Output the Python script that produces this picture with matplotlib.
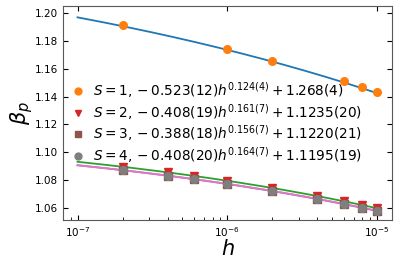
import numpy as np
import matplotlib
matplotlib.use("Agg")
import matplotlib.pyplot as plt

# step sizes
h_s1 = [2e-7, 1e-6, 2e-6, 6e-6, 8e-6, 1e-5]
h_rest = [2e-7, 4e-7, 6e-7, 1e-6, 2e-6, 4e-6, 6e-6, 8e-6, 1e-5]

# measured beta_p
beta_s1 = [1.1915, 1.1745, 1.1660, 1.1510, 1.1468, 1.1433]
beta_s2 = [1.0894, 1.0854, 1.0829, 1.0794, 1.0742, 1.0683, 1.0646, 1.0618, 1.0596]
beta_s3 = [1.0870, 1.0830, 1.0805, 1.0770, 1.0719, 1.0662, 1.0626, 1.0598, 1.0576]
beta_s4 = [1.0870, 1.0831, 1.0806, 1.0771, 1.0720, 1.0664, 1.0627, 1.0600, 1.0577]

# fit parameters  beta = -a * h^b + c
fit_a = [0.523, 0.408, 0.388, 0.408]
fit_b = [0.124, 0.161, 0.156, 0.164]
fit_c = [1.268, 1.1235, 1.1220, 1.1195]

labels = [
    r"$S=1, -0.523(12)h^{0.124(4)}+1.268(4)$",
    r"$S=2, -0.408(19)h^{0.161(7)}+1.1235(20)$",
    r"$S=3, -0.388(18)h^{0.156(7)}+1.1220(21)$",
    r"$S=4, -0.408(20)h^{0.164(7)}+1.1195(19)$",
]

fig = plt.figure(figsize=(3.99, 2.66), dpi=100)
ax = fig.add_axes([63 / 399, 46 / 266, 329 / 399, 214 / 266])

h_fit = np.logspace(-7, -5, 200)
line_cols = ["C0", "C2", "C4", "C6"]
for i in range(4):
    ax.plot(h_fit, -fit_a[i] * h_fit ** fit_b[i] + fit_c[i],
            color=line_cols[i], lw=1.3, zorder=2)

data = [(h_s1, beta_s1, "o", "C1"), (h_rest, beta_s2, "v", "C3"),
        (h_rest, beta_s3, "s", "C5"), (h_rest, beta_s4, "o", "C7")]
for i, (hh, bb, mk, col) in enumerate(data):
    ax.plot(hh, bb, mk, color=col, ms=5.5, label=labels[i], zorder=3)

ax.set_xscale("log")
ax.set_xlim(8e-8, 1.26e-5)
ax.set_ylim(1.0511, 1.2053)
ax.set_yticks(np.arange(1.06, 1.201, 0.02))
ax.yaxis.set_major_formatter(matplotlib.ticker.FormatStrFormatter("%.2f"))

ax.tick_params(which="both", direction="in", top=True, right=True, labelsize=7.5)
ax.tick_params(which="minor", top=False)
for sp in ax.spines.values():
    sp.set_color("0.35")

ax.set_xlabel(r"$h$", fontsize=15, labelpad=0)
ax.set_ylabel(r"$\beta_p$", fontsize=15, labelpad=0)

ax.legend(loc="center left", bbox_to_anchor=(0.027, 0.455), frameon=False,
          fontsize=9.8, numpoints=1, handlelength=0.95, handletextpad=0.59,
          labelspacing=0.12, borderpad=0, borderaxespad=0, markerscale=0.9)

fig.savefig("out.png", dpi=100)
